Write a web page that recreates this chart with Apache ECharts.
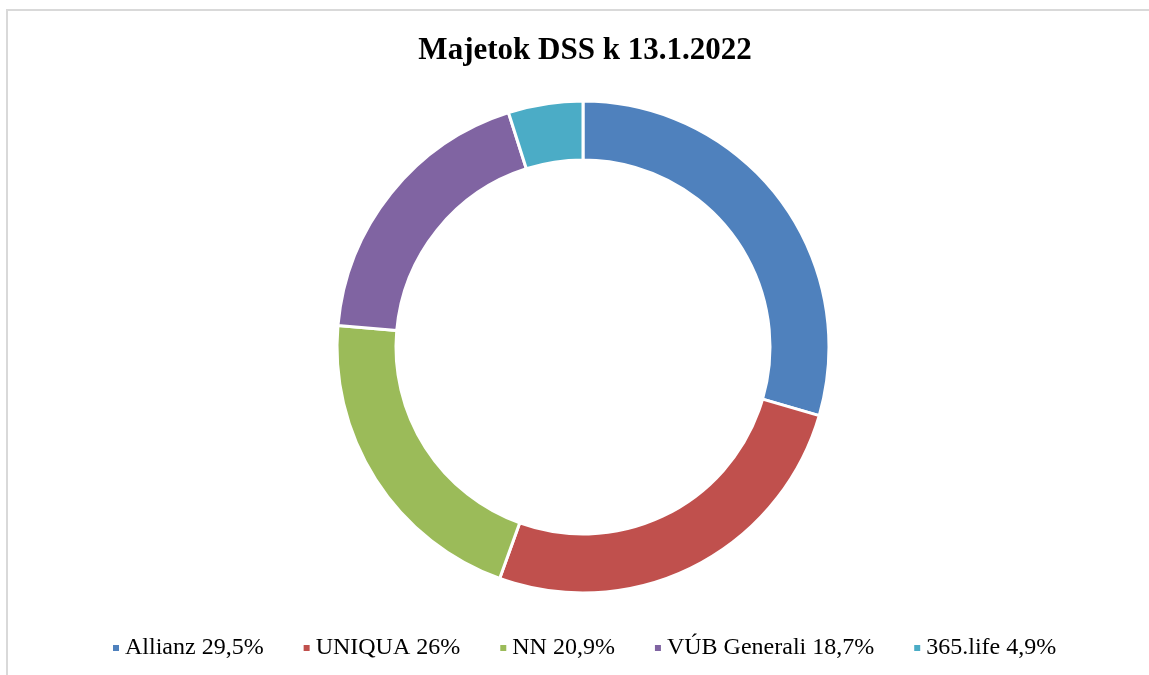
<!DOCTYPE html>
<html>
<head>
<meta charset="utf-8">
<script src="https://cdn.jsdelivr.net/npm/echarts@6/dist/echarts.min.js"></script>
<style>
  html, body { margin: 0; padding: 0; background: #fff; }
  #frame {
    position: absolute; left: 6px; top: 9px; width: 1143px; height: 666px;
    border-top: 2px solid #d9d9d9; border-left: 2px solid #d9d9d9;
    box-sizing: border-box;
  }
  #chart { position: absolute; left: 0; top: 0; width: 1149px; height: 675px; }
</style>
</head>
<body>
<div id="frame"></div>
<div id="chart"></div>
<script>
// data
const names = ["Allianz", "UNIQUA", "NN", "VÚB Generali", "365.life"];
const shares = [29.5, 26, 20.9, 18.7, 4.9];
const colors = ["#4F81BD", "#C0504D", "#9BBB59", "#8064A2", "#4BACC6"];

const chart = echarts.init(document.getElementById("chart"));

const fmt = (v) => String(v).replace(".", ",") + "%";

const option = {
  animation: false,
  color: colors,
  title: {
    text: "Majetok DSS k 13.1.2022",
    left: 580,
    textAlign: "center",
    top: 30,
    textStyle: {
      fontFamily: "Liberation Serif",
      fontWeight: "bold",
      fontSize: 31,
      color: "#000",
    },
  },
  legend: {
    top: 631,
    left: 106,
    width: 1040,
    itemWidth: 8,
    itemHeight: 8,
    itemGap: 38,
    icon: "rect",
    data: names,
    formatter: (n) => n + " " + fmt(shares[names.indexOf(n)]),
    textStyle: {
      fontFamily: "Liberation Serif",
      fontSize: 24,
      color: "#000",
    },
  },
  series: [
    {
      type: "pie",
      center: [583, 347],
      radius: [187, 246],
      startAngle: 90,
      clockwise: true,
      label: { show: false },
      labelLine: { show: false },
      itemStyle: { borderColor: "#fff", borderWidth: 3 },
      data: names.map((n, i) => ({ name: n, value: shares[i] })),
    },
  ],
};
chart.setOption(option);
</script>
</body>
</html>
